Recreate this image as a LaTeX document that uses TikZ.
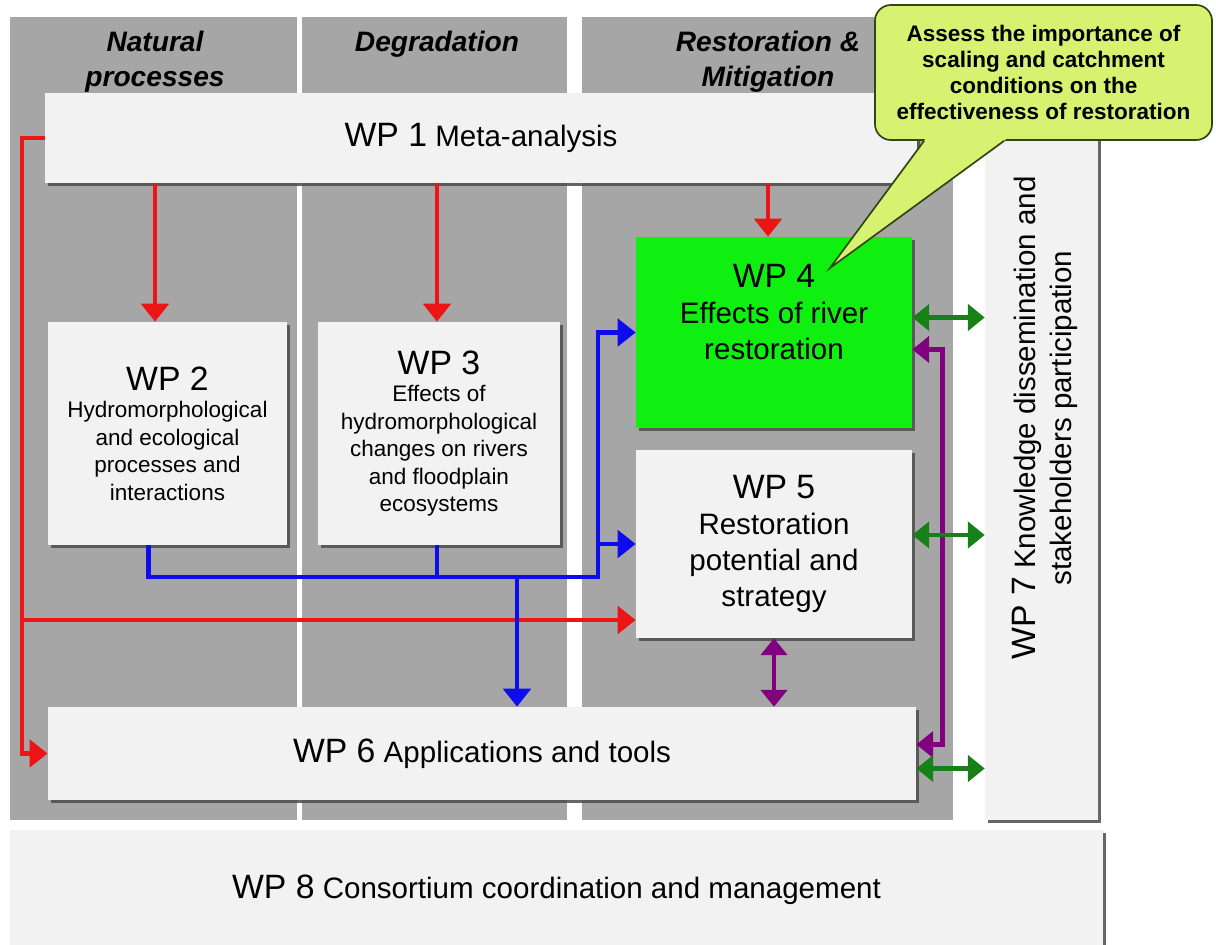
\documentclass[tikz,border=0pt]{standalone}
\usepackage{fontspec}
\setmainfont{Liberation Sans}
\usetikzlibrary{calc,positioning,arrows.meta,shadows}

\definecolor{colgray}{RGB}{166,166,166}
\definecolor{boxgray}{RGB}{242,242,242}
\definecolor{wpgreen}{RGB}{16,240,16}
\definecolor{notefill}{RGB}{214,242,112}
\definecolor{noteline}{RGB}{50,70,20}
\definecolor{arrred}{RGB}{236,20,20}
\definecolor{arrblue}{RGB}{12,12,236}
\definecolor{arrpurple}{RGB}{128,0,128}
\definecolor{arrgreen}{RGB}{24,128,24}

\newcommand{\wpnum}{\fontsize{24}{28}\selectfont}
\newcommand{\wptitle}{\fontsize{21}{25.5}\selectfont}
\newcommand{\wpsmall}{\fontsize{16}{19.5}\selectfont}

\begin{document}
\begin{tikzpicture}[x=0.025cm,y=-0.025cm,
  col/.style={fill=colgray},
  hdr/.style={anchor=north,align=center,inner sep=0pt,font=\fontsize{20}{24.5}\selectfont\bfseries\itshape},
  wpbox/.style={fill=boxgray,align=center,inner sep=2pt,drop shadow={shadow xshift=2pt,shadow yshift=-2pt,fill=black!70,opacity=.85}},
  note/.style={fill=notefill,draw=noteline,line width=1.2pt,rounded corners=0.4cm,minimum width=8.425cm,minimum height=3.375cm,align=center,font=\fontsize{16}{18.5}\selectfont\bfseries},
  redarr/.style={draw=arrred,line width=3.4pt,-{Triangle[length=0.45cm,width=0.68cm]}},
  bluearr/.style={draw=arrblue,line width=3.4pt,-{Triangle[length=0.45cm,width=0.68cm]}},
  blueline/.style={draw=arrblue,line width=3.4pt},
  purdbl/.style={draw=arrpurple,line width=3.2pt,{Triangle[length=0.42cm,width=0.65cm]}-{Triangle[length=0.42cm,width=0.65cm]}},
  grndbl/.style={draw=arrgreen,line width=3.2pt,{Triangle[length=0.42cm,width=0.65cm]}-{Triangle[length=0.42cm,width=0.65cm]}}]

\useasboundingbox (0,0) rectangle (1216,945);
\fill[white] (0,0) rectangle (1216,945);

% columns
\fill[col] (10,17) rectangle (297,820);
\fill[col] (302,17) rectangle (567,820);
\fill[col] (582,17) rectangle (953,820);

\node[hdr] (hdr1) at (155,31) {Natural\\processes};
\node[hdr] (hdr2) at (437,31) {Degradation};
\node[hdr] (hdr3) at (768,31) {Restoration \&\\Mitigation};

% work packages
\node[wpbox,minimum width=21.8cm,minimum height=2.25cm,font=\wptitle] (wp1) at (481,138) {{\wpnum WP 1} Meta-analysis};
\node[wpbox,minimum width=5.975cm,minimum height=5.575cm,font=\wpsmall] (wp2) at (167.5,433.5) {{\wpnum WP 2}\\Hydromorphological\\and ecological\\processes and\\interactions};
\node[wpbox,minimum width=6.05cm,minimum height=5.575cm,font=\wpsmall] (wp3) at (439,433.5) {{\wpnum WP 3}\\Effects of\\hydromorphological\\changes on rivers\\and floodplain\\ecosystems};
\node[wpbox,fill=wpgreen,minimum width=6.9cm,minimum height=4.775cm] (wp4) at (774,332.5) {};
\node[font=\wptitle,align=center] (wp4txt) at (774,312) {{\wpnum WP 4}\\Effects of river\\restoration};
\node[wpbox,minimum width=6.9cm,minimum height=4.7cm,font=\wptitle] (wp5) at (774,544) {{\wpnum WP 5}\\Restoration\\potential and\\strategy};
\node[wpbox,minimum width=21.7cm,minimum height=2.325cm,font=\wptitle] (wp6) at (482,753.5) {{\wpnum WP 6} Applications and tools};
\node[wpbox,minimum width=2.825cm,minimum height=18.175cm] (wp7) at (1041.5,456.5) {};
\node[rotate=90,font=\wptitle,align=center] (wp7txt) at (1045,418) {{\wpnum WP 7} Knowledge dissemination and\\stakeholders participation};
\node[wpbox,minimum width=27.325cm,minimum height=3cm,font=\wptitle] (wp8) at (556.5,890) {{\wpnum WP 8} Consortium coordination and management};

% red links
\draw[redarr] (wp1.south -| hdr1) -- (wp2.north -| hdr1);
\draw[redarr] (wp1.south -| hdr2) -- (wp3.north -| hdr2);
\draw[redarr] (wp1.south -| hdr3) -- (wp4.north -| hdr3);
\coordinate (rbus) at (22,620);
\draw[redarr] (wp1.west) -| (rbus) |- (wp6.west);
\draw[redarr] (rbus) -- (rbus -| wp5.west);

% blue links
\coordinate (bbus) at (598,577);
\coordinate (bdrop) at (517,577);
\draw[bluearr] ($(wp2.south)+(-19,0)$) |- (bbus) |- (wp4.west);
\draw[blueline] (wp3.south -| hdr2) -- (hdr2 |- bbus);
\draw[bluearr] (bbus |- wp5.west) -- (wp5.west);
\draw[bluearr] (bdrop) -- (bdrop |- wp6.north);

% purple links
\draw[purdbl] (wp5.south) -- (wp5.south |- wp6.north);
\draw[purdbl] ($(wp4.east)+(0,17)$) -- ++(30,0) |- ($(wp6.east)+(0,-9)$);

% green links
\draw[grndbl] ($(wp4.east)+(0,-15)$) -- ($(wp7.west |- wp4.east)+(0,-15)$);
\draw[grndbl] ($(wp5.east)+(0,-9)$) -- ($(wp7.west |- wp5.east)+(0,-9)$);
\draw[grndbl] ($(wp6.east)+(0,15)$) -- ($(wp7.west |- wp6.east)+(0,15)$);

% callout
\node[note] (note) at (1043.5,72.5) {Assess the importance of\\scaling and catchment\\conditions on the\\effectiveness of restoration};
\coordinate (tip) at (830,268);
\fill[notefill] ($(note.south west)+(53.6,-5)$) -- (tip) -- ($(note.south west)+(136.6,-5)$) -- cycle;
\draw[noteline,line width=1.2pt] ($(note.south west)+(50,0)$) -- (tip) -- ($(note.south west)+(130,0)$);
\end{tikzpicture}
\end{document}
